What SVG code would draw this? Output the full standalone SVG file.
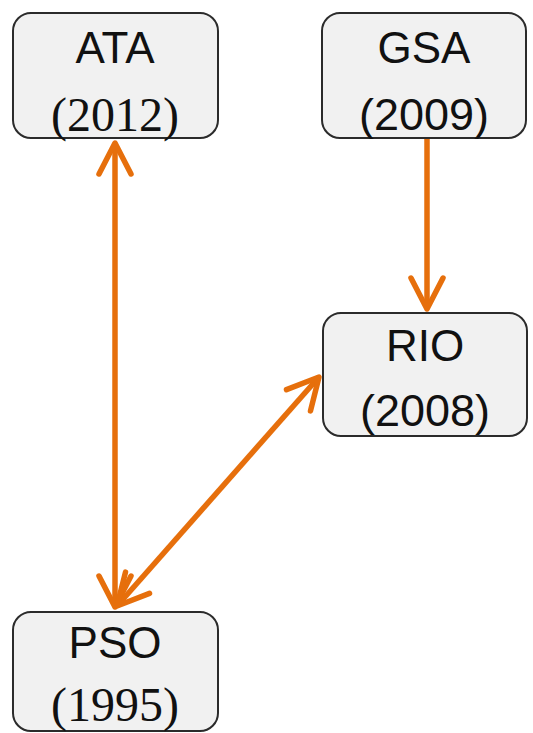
<svg xmlns="http://www.w3.org/2000/svg" width="533" height="733" viewBox="0 0 533 733">
<defs>
<style>
.box{fill:#f1f1f1;stroke:#2b2b2b;stroke-width:2}
.t{font-family:"Liberation Sans",Arial,sans-serif;font-size:44px;fill:#111;text-anchor:middle}
.y{font-family:"Liberation Sans",Arial,sans-serif;font-size:45px;fill:#111;text-anchor:middle}
.s{font-family:"Liberation Serif","Times New Roman",serif;font-size:48px;fill:#111;text-anchor:middle}
.e{stroke:#e66f0c;stroke-width:5.5;fill:none}
</style>
<marker id="ah" markerUnits="userSpaceOnUse" viewBox="-36 -22 40 44" markerWidth="40" markerHeight="44" refX="0" refY="0" orient="auto-start-reverse">
<path d="M-31,-16 L0,0 L-31,16" fill="none" stroke="#e66f0c" stroke-width="5.5" stroke-linecap="round" stroke-linejoin="round"/>
</marker>
</defs>
<g id="connectors">
<line class="e" x1="115" y1="143" x2="115" y2="607" marker-start="url(#ah)" marker-end="url(#ah)"/>
<line class="e" x1="427" y1="139" x2="427" y2="309" marker-end="url(#ah)"/>
<line class="e" x1="319" y1="377" x2="117" y2="606" marker-start="url(#ah)" marker-end="url(#ah)"/>
</g>
<g id="ATA">
<rect class="box" x="13" y="13" width="205" height="125" rx="18"/>
<text class="t" x="115" y="63">ATA</text>
<text class="s" x="115" y="131">(2012)</text>
</g>
<g id="GSA">
<rect class="box" x="322" y="13" width="204" height="125" rx="18"/>
<text class="t" x="424" y="63">GSA</text>
<text class="y" x="424" y="130">(2009)</text>
</g>
<g id="RIO">
<rect class="box" x="323" y="313" width="204" height="123" rx="18"/>
<text class="t" x="425" y="361">RIO</text>
<text class="y" x="425" y="426">(2008)</text>
</g>
<g id="PSO">
<rect class="box" x="13" y="612" width="205" height="119" rx="18"/>
<text class="t" x="115" y="658">PSO</text>
<text class="s" x="115" y="721">(1995)</text>
</g>
</svg>
